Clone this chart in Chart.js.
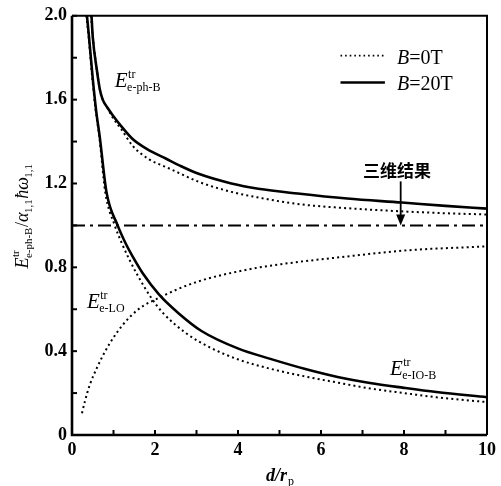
<!DOCTYPE html>
<html><head><meta charset="utf-8">
<script src="https://cdn.jsdelivr.net/npm/chart.js@4"></script>
<style>html,body{margin:0;padding:0;background:#fff}canvas{display:block}</style>
</head><body>
<canvas id="c" width="501" height="486"></canvas>
<script>
// ---------- data ----------
const xTicks = [0, 2, 4, 6, 8, 10];
const yTicks = [0, 0.4, 0.8, 1.2, 1.6, 2.0];

// E^tr e-ph-B (upper curves)
const ephB20_x = [0.47, 0.5, 0.6, 0.67, 0.74, 0.86, 0.98, 1.2, 1.46, 1.8, 2.27, 2.6, 3.05, 3.84, 4.49, 5.44, 6.63, 7.95, 9.0, 10.0];
const ephB20_y = [2.0, 1.9, 1.74, 1.65, 1.6, 1.56, 1.526, 1.47, 1.412, 1.365, 1.318, 1.285, 1.246, 1.2, 1.175, 1.152, 1.128, 1.109, 1.093, 1.08];
const ephB0_x  = [0.46, 0.5, 0.6, 0.67, 0.74, 0.86, 0.98, 1.2, 1.46, 1.86, 2.27, 2.6, 3.05, 3.84, 4.49, 5.44, 6.63, 7.95, 9.0, 10.0];
const ephB0_y  = [2.0, 1.9, 1.74, 1.65, 1.6, 1.558, 1.515, 1.455, 1.38, 1.315, 1.278, 1.248, 1.208, 1.16, 1.133, 1.102, 1.082, 1.067, 1.058, 1.052];

// E^tr e-IO-B (lower decreasing curves)
const eioB20_x = [0.36, 0.41, 0.5, 0.58, 0.67, 0.83, 1.1, 1.3, 1.46, 1.7, 2.1, 2.58, 3.13, 4.01, 4.8, 5.6, 6.4, 7.18, 8.0, 8.78, 10.0];
const eioB20_y = [2.0, 1.9, 1.7, 1.55, 1.42, 1.16, 1.0, 0.911, 0.852, 0.773, 0.67, 0.579, 0.495, 0.412, 0.362, 0.316, 0.277, 0.248, 0.225, 0.205, 0.18];
const eioB0_x  = [0.35, 0.4, 0.49, 0.57, 0.66, 0.8, 1.03, 1.2, 1.38, 1.58, 1.9, 2.18, 2.74, 3.3, 4.01, 4.8, 5.6, 6.4, 7.18, 8.0, 8.78, 10.0];
const eioB0_y  = [2.0, 1.9, 1.7, 1.55, 1.42, 1.16, 1.0, 0.915, 0.838, 0.762, 0.657, 0.585, 0.487, 0.42, 0.36, 0.315, 0.28, 0.25, 0.222, 0.2, 0.18, 0.157];

// E^tr e-LO (rising dotted curve)
const eLO_x = [0.24, 0.31, 0.43, 0.6, 0.8, 1.0, 1.22, 1.6, 2.1, 3.0, 4.25, 5.04, 6.63, 8.0, 10.0];
const eLO_y = [0.104, 0.16, 0.24, 0.32, 0.4, 0.465, 0.525, 0.6, 0.655, 0.73, 0.79, 0.815, 0.852, 0.88, 0.9];

// 3D result reference line
const ref3D_x = [0, 10];
const ref3D_y = [1.0, 1.0];

const legendLabels = ['B=0T', 'B=20T'];
const note3D = '三维结果';

// ---------- helpers ----------
const SERIF = '"Liberation Serif", "Times New Roman", serif';
const pts = (xs, ys) => xs.map((v, i) => ({x: v, y: ys[i]}));
const DOT = [2, 3.2];

function ds(xs, ys, dotted, width) {
  return {
    data: pts(xs, ys), showLine: true, pointRadius: 0, borderColor: '#000',
    borderWidth: width, borderDash: dotted ? DOT : [], cubicInterpolationMode: 'monotone',
    fill: false
  };
}

// draws main + stacked sup/sub, returns width
function richLabel(ctx, x, y, main, sup, sub, mainFont, smallFont, draw = true) {
  ctx.font = mainFont;
  const mw = ctx.measureText(main).width;
  ctx.font = smallFont;
  const sw = Math.max(sup ? ctx.measureText(sup).width : 0, sub ? ctx.measureText(sub).width : 0);
  if (draw) {
    ctx.font = mainFont; ctx.fillText(main, x, y);
    ctx.font = smallFont;
    if (sup) ctx.fillText(sup, x + mw + 0.5, y - 9);
    if (sub) ctx.fillText(sub, x + mw - 0.5, y + 4);
  }
  return mw + sw;
}

const deco = {
  id: 'deco',
  afterDraw(chart) {
    const {ctx, chartArea: a, scales: {x, y}} = chart;
    ctx.save();
    ctx.fillStyle = '#000'; ctx.strokeStyle = '#000';
    // frame
    ctx.lineWidth = 2;
    ctx.beginPath();
    ctx.moveTo(a.left, a.top); ctx.lineTo(a.right, a.top); ctx.lineTo(a.right, a.bottom);
    ctx.stroke();
    ctx.lineWidth = 2.6;
    ctx.beginPath();
    ctx.moveTo(a.left, a.top); ctx.lineTo(a.left, a.bottom); ctx.lineTo(a.right, a.bottom);
    ctx.stroke();
    // inward ticks
    ctx.lineWidth = 2;
    for (let v = 0; v <= 10.001; v += 1) {
      const px = x.getPixelForValue(v);
      ctx.beginPath(); ctx.moveTo(px, a.bottom); ctx.lineTo(px, a.bottom - 5); ctx.stroke();
    }
    for (let v = 0; v <= 2.001; v += 0.2) {
      const py = y.getPixelForValue(v);
      ctx.beginPath(); ctx.moveTo(a.left, py); ctx.lineTo(a.left + 5, py); ctx.stroke();
    }

    // legend
    const lx0 = x.getPixelForValue(6.47), lx1 = x.getPixelForValue(7.54), tx = x.getPixelForValue(7.83);
    const ly = [y.getPixelForValue(1.81), y.getPixelForValue(1.682)];
    const lb = [y.getPixelForValue(1.768), y.getPixelForValue(1.645)];
    ctx.lineWidth = 1.6; ctx.setLineDash([1.6, 3]);
    ctx.beginPath(); ctx.moveTo(lx0, ly[0]); ctx.lineTo(lx1, ly[0]); ctx.stroke();
    ctx.setLineDash([]); ctx.lineWidth = 2.6;
    ctx.beginPath(); ctx.moveTo(lx0, ly[1]); ctx.lineTo(lx1, ly[1]); ctx.stroke();
    ctx.textBaseline = 'alphabetic'; ctx.textAlign = 'left';
    legendLabels.forEach((t, i) => {
      const [b, rest] = [t.slice(0, 1), t.slice(1)];
      ctx.font = 'italic 20px ' + SERIF; ctx.fillText(b, tx, lb[i]);
      const w = ctx.measureText(b).width;
      ctx.font = '20px ' + SERIF; ctx.fillText(rest, tx + w, lb[i]);
    });

    // curve labels
    const mf = 'italic 21px ' + SERIF, sf = '12px ' + SERIF;
    richLabel(ctx, x.getPixelForValue(1.03), y.getPixelForValue(1.659), 'E', 'tr', 'e-ph-B', mf, sf);
    richLabel(ctx, x.getPixelForValue(0.36), y.getPixelForValue(0.607), 'E', 'tr', 'e-LO', mf, sf);
    richLabel(ctx, x.getPixelForValue(7.66), y.getPixelForValue(0.284), 'E', 'tr', 'e-IO-B', mf, sf);

    // 3D result note + arrow
    ctx.font = 'bold 17px "Noto Sans CJK SC", sans-serif';
    ctx.textAlign = 'center';
    ctx.fillText(note3D, x.getPixelForValue(7.83), y.getPixelForValue(1.229));
    const ax = x.getPixelForValue(7.92), ay0 = y.getPixelForValue(1.21), ay1 = y.getPixelForValue(1.0);
    ctx.lineWidth = 1.8;
    ctx.beginPath(); ctx.moveTo(ax, ay0); ctx.lineTo(ax, ay1 - 8); ctx.stroke();
    ctx.beginPath(); ctx.moveTo(ax - 4.5, ay1 - 11); ctx.lineTo(ax + 4.5, ay1 - 11); ctx.lineTo(ax, ay1); ctx.closePath(); ctx.fill();

    // x axis title d/r_p
    ctx.textAlign = 'left';
    ctx.font = 'italic bold 18px ' + SERIF;
    const xt = 'd/r';
    const xw = ctx.measureText(xt).width;
    ctx.font = '12px ' + SERIF;
    const pw = ctx.measureText('p').width;
    const xs = (a.left + a.right) / 2 - (xw + pw) / 2;
    ctx.font = 'italic bold 18px ' + SERIF; ctx.fillText(xt, xs, 481);
    ctx.font = '12px ' + SERIF; ctx.fillText('p', xs + xw + 1, 485);

    // y axis title (rotated)
    ctx.save();
    ctx.translate(28, 216);
    ctx.rotate(-Math.PI / 2);
    const M = 'italic 18px ' + SERIF, S = '11px ' + SERIF;
    const parts = [
      () => richLabel(ctx, 0, 0, 'E', 'tr', 'e-ph-B', M, S, false),
      () => { ctx.font = '18px ' + SERIF; return ctx.measureText('/').width; },
      () => richLabel(ctx, 0, 0, 'α', null, '1,1', M, S, false),
      () => richLabel(ctx, 0, 0, 'ħω', null, '1,1', M, S, false)
    ];
    const total = parts.reduce((s, f) => s + f(), 0);
    let cx = -total / 2;
    cx += richLabel(ctx, cx, 0, 'E', 'tr', 'e-ph-B', M, S);
    ctx.font = '18px ' + SERIF; ctx.fillText('/', cx, 0); cx += ctx.measureText('/').width;
    cx += richLabel(ctx, cx, 0, 'α', null, '1,1', M, S);
    cx += richLabel(ctx, cx, 0, 'ħω', null, '1,1', M, S);
    ctx.restore();

    ctx.restore();
  }
};

new Chart(document.getElementById('c'), {
  type: 'scatter',
  data: {
    datasets: [
      ds(ephB20_x, ephB20_y, false, 2.6),
      ds(ephB0_x, ephB0_y, true, 2),
      ds(eioB20_x, eioB20_y, false, 2.6),
      ds(eioB0_x, eioB0_y, true, 2),
      ds(eLO_x, eLO_y, true, 2),
      Object.assign(ds(ref3D_x, ref3D_y, false, 2), {borderDash: [13, 5, 3, 5], cubicInterpolationMode: 'default'})
    ]
  },
  options: {
    responsive: false, animation: false, devicePixelRatio: 1,
    layout: {padding: {top: 13, right: 10, left: 0, bottom: 0}},
    plugins: {legend: {display: false}, tooltip: {enabled: false}},
    scales: {
      x: {
        type: 'linear', min: 0, max: 10,
        afterBuildTicks: s => { s.ticks = xTicks.map(v => ({value: v})); },
        ticks: {color: '#000', padding: 5, autoSkip: false, maxRotation: 0,
          font: {family: SERIF, size: 18, weight: 'bold'},
          callback: v => String(v)},
        grid: {display: false, drawTicks: false},
        border: {display: false},
        afterFit: s => { s.height = 51; }
      },
      y: {
        type: 'linear', min: 0, max: 2,
        afterBuildTicks: s => { s.ticks = yTicks.map(v => ({value: v})); },
        ticks: {color: '#000', padding: 5, autoSkip: false,
          font: {family: SERIF, size: 18, weight: 'bold'},
          callback: v => v === 0 ? '0' : v.toFixed(1)},
        grid: {display: false, drawTicks: false},
        border: {display: false},
        afterFit: s => { s.width = 72; }
      }
    }
  },
  plugins: [deco]
});
</script>
</body></html>
